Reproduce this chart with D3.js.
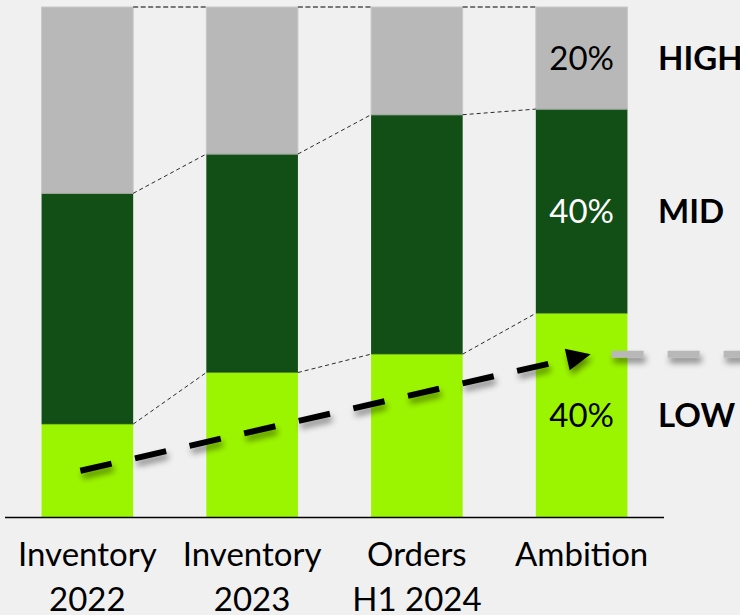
<!DOCTYPE html>
<html>
<head>
<meta charset="utf-8">
<script src="https://cdn.jsdelivr.net/npm/d3@7"></script>
<style>
  html, body { margin: 0; padding: 0; background: #f0f0f0; }
  svg { display: block; }
  text { font-family: Lato, "Open Sans", sans-serif; }
</style>
</head>
<body>
<svg id="chart" width="740" height="615"></svg>
<script>
// Product mix by price tier (share of total, %)
const categories = ["Inventory\n2022", "Inventory\n2023", "Orders\nH1 2024", "Ambition"];
const tiers = ["LOW", "MID", "HIGH"];
const lowShare  = [18.3, 28.4, 32, 40];
const midShare  = [45.2, 42.8, 46.9, 40];
const highShare = [36.5, 28.8, 21.1, 20];
const tierColors = { LOW: "#9cf500", MID: "#114f16", HIGH: "#b8b8b8" };
const labelColors = { LOW: "#000", MID: "#fff", HIGH: "#000" };

const rows = categories.map((c, i) => ({
  category: c, LOW: lowShare[i], MID: midShare[i], HIGH: highShare[i]
}));

const svg = d3.select("#chart");
const W = 740, H = 615;
const FS = 33;

const x = d3.scaleBand()
  .domain(categories)
  .range([5, 664])
  .paddingInner(0.444)
  .paddingOuter(0.222);

const y = d3.scaleLinear().domain([0, 100]).range([517.5, 7]);

const stacked = d3.stack().keys(tiers)(rows);

// drop shadow for the trend arrow
const defs = svg.append("defs");
const f = defs.append("filter").attr("id", "shadow")
  .attr("x", "-20%").attr("y", "-50%").attr("width", "140%").attr("height", "200%");
f.append("feDropShadow")
  .attr("dx", 2).attr("dy", 5).attr("stdDeviation", 3)
  .attr("flood-color", "#000").attr("flood-opacity", 0.45);

// stacked bars
const layers = svg.append("g").selectAll("g")
  .data(stacked)
  .join("g")
  .attr("fill", d => tierColors[d.key]);

layers.selectAll("rect")
  .data(d => d.map(v => Object.assign(v, { key: d.key })))
  .join("rect")
  .attr("x", d => x(d.data.category))
  .attr("y", d => y(d[1]))
  .attr("width", x.bandwidth())
  .attr("height", d => y(d[0]) - y(d[1]))
  .attr("stroke", d => d.key === "HIGH" ? "#c8c8c8" : "none")
  .attr("stroke-width", 1);

// thin divider lines between segments
stacked.slice(0, 2).forEach(layer => {
  svg.append("g").selectAll("line")
    .data(layer)
    .join("line")
    .attr("x1", d => x(d.data.category))
    .attr("x2", d => x(d.data.category) + x.bandwidth())
    .attr("y1", d => y(d[1])).attr("y2", d => y(d[1]))
    .attr("stroke", layer.key === "MID" ? "#7f8c7f" : "#4f7a1e")
    .attr("stroke-opacity", 0.6)
    .attr("stroke-width", 1);
});

// dashed connectors between neighbouring bars
const levels = [
  { vals: lowShare, top: false },
  { vals: lowShare.map((v, i) => v + midShare[i]), top: false },
  { vals: lowShare.map((v, i) => v + midShare[i] + highShare[i]), top: true }
];
levels.forEach(lv => {
  const pairs = d3.range(categories.length - 1);
  svg.append("g").selectAll("line")
    .data(pairs)
    .join("line")
    .attr("x1", i => x(categories[i]) + x.bandwidth())
    .attr("y1", i => y(lv.vals[i]))
    .attr("x2", i => x(categories[i + 1]))
    .attr("y2", i => y(lv.vals[i + 1]))
    .attr("stroke", lv.top ? "#505050" : "#2a2a2a")
    .attr("stroke-width", lv.top ? 1.6 : 1)
    .attr("stroke-dasharray", lv.top ? "5,2.5" : "4,3");
});

// baseline
svg.append("line")
  .attr("x1", 5).attr("x2", 664)
  .attr("y1", y(0)).attr("y2", y(0))
  .attr("stroke", "#000").attr("stroke-width", 1.5);

// trend arrow: from mid-low of the first bar up to the Orders H1 2024 low level
const c0 = x(categories[0]) + x.bandwidth() / 2;
const c3 = x(categories[3]) + x.bandwidth() / 2;
const start = [c0 - 7, y(lowShare[0] / 2)];
const tip = [c3 + 9, y(lowShare[2])];
const ang = Math.atan2(tip[1] - start[1], tip[0] - start[0]);
const headLen = 24, headHalf = 11;
const base = [tip[0] - headLen * Math.cos(ang), tip[1] - headLen * Math.sin(ang)];

const arrow = svg.append("g").attr("filter", "url(#shadow)");

// grey continuation of the reached level
arrow.append("line")
  .attr("x1", tip[0] + 21).attr("x2", W + 10)
  .attr("y1", y(lowShare[2])).attr("y2", y(lowShare[2]))
  .attr("stroke", "#b8b8b8").attr("stroke-width", 7)
  .attr("stroke-dasharray", "32,24");

arrow.append("line")
  .attr("x1", start[0]).attr("y1", start[1])
  .attr("x2", base[0]).attr("y2", base[1])
  .attr("stroke", "#000").attr("stroke-width", 6)
  .attr("stroke-dasharray", "32,24");

const px = -Math.sin(ang), py = Math.cos(ang);
arrow.append("path")
  .attr("d", d3.line()([
    tip,
    [base[0] + px * headHalf, base[1] + py * headHalf],
    [base[0] - px * headHalf, base[1] - py * headHalf]
  ]) + "Z")
  .attr("fill", "#000");

// value labels on the Ambition bar
const last = categories.length - 1;
const lastCat = categories[last];
svg.append("g").selectAll("text")
  .data(stacked)
  .join("text")
  .attr("x", x(lastCat) + x.bandwidth() / 2)
  .attr("y", d => (y(d[last][0]) + y(d[last][1])) / 2 + 12)
  .attr("text-anchor", "middle")
  .attr("font-size", FS)
  .attr("fill", d => labelColors[d.key])
  .text(d => `${d[last].data[d.key]}%`);

// tier names to the right
svg.append("g").selectAll("text")
  .data(stacked)
  .join("text")
  .attr("x", 658)
  .attr("y", d => (y(d[last][0]) + y(d[last][1])) / 2 + 12)
  .attr("font-size", FS)
  .attr("font-weight", "bold")
  .attr("fill", "#000")
  .text(d => d.key);

// category labels (two lines)
const catG = svg.append("g").selectAll("text")
  .data(categories)
  .join("text")
  .attr("text-anchor", "middle")
  .attr("font-size", FS)
  .attr("fill", "#000")
  .attr("transform", d => `translate(${x(d) + x.bandwidth() / 2},566)`);
catG.selectAll("tspan")
  .data(d => d.split("\n"))
  .join("tspan")
  .attr("x", 0)
  .attr("y", (d, i) => i * 45)
  .text(d => d);
</script>
</body>
</html>
